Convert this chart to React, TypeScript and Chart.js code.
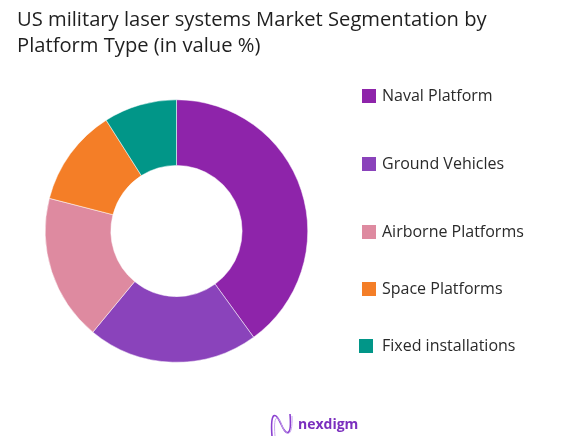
import React, { useEffect, useRef } from "react";
import { Chart, registerables } from "chart.js";

Chart.register(...registerables);

const titleLines = ["US military laser systems Market Segmentation by", "Platform Type (in value %)"];
const categories = ["Naval Platform", "Ground Vehicles", "Airborne Platforms", "Space Platforms", "Fixed installations"];
const values = [40, 21, 18, 12, 9];
const colors = ["#8E24AA", "#8A43BB", "#DE8AA0", "#F47E27", "#019688"];
const legendY = [96, 164, 232, 289, 346];
const legendX = [362, 362, 362, 362, 359];

const overlay = {
  id: "overlay",
  afterDraw(chart: any) {
    const ctx = chart.ctx as CanvasRenderingContext2D;
    ctx.save();
    // Title
    ctx.fillStyle = "#1f1f1f";
    ctx.textBaseline = "alphabetic";
    ctx.textAlign = "left";
    let size = 20;
    ctx.font = `${size}px "Open Sans"`;
    const w = ctx.measureText(titleLines[0]).width;
    size = size * 470 / w;
    ctx.font = `${size}px "Open Sans"`;
    ctx.fillText(titleLines[0], 17, 26);
    ctx.fillText(titleLines[1], 17, 52);
    // Legend
    ctx.font = `16px "Open Sans"`;
    ctx.textBaseline = "middle";
    categories.forEach((c, i) => {
      ctx.fillStyle = colors[i];
      ctx.fillRect(legendX[i], legendY[i] - 7, 14, 14);
      ctx.fillStyle = "#2a2a2a";
      ctx.fillText(c, 382, legendY[i]);
    });
    // Logo
    ctx.strokeStyle = "#8A3FD0";
    ctx.lineWidth = 1.6;
    ctx.beginPath();
    ctx.moveTo(272, 436);
    ctx.bezierCurveTo(270, 410, 276, 412, 281, 424);
    ctx.bezierCurveTo(286, 436, 292, 438, 290, 414);
    ctx.stroke();
    ctx.strokeStyle = "#C9A6EE";
    ctx.lineWidth = 1;
    ctx.beginPath();
    ctx.moveTo(275, 436);
    ctx.bezierCurveTo(273, 414, 278, 414, 282, 426);
    ctx.bezierCurveTo(287, 438, 293, 436, 292, 416);
    ctx.stroke();
    ctx.fillStyle = "#7B2FBE";
    ctx.font = `bold 14px "Open Sans"`;
    ctx.fillText("nexdigm", 298, 425);
    ctx.restore();
  },
};

export default function App() {
  const ref = useRef<HTMLCanvasElement>(null);
  useEffect(() => {
    const chart = new Chart(ref.current!, {
      type: "doughnut",
      data: {
        labels: categories,
        datasets: [
          {
            data: values,
            backgroundColor: colors,
            borderColor: "#ffffff",
            borderWidth: 0.5,
          },
        ],
      },
      options: {
        responsive: false,
        animation: false,
        cutout: "50%",
        layout: { padding: { left: 45, right: 267, top: 99.5, bottom: 81.5 } },
        plugins: { legend: { display: false }, tooltip: { enabled: false }, title: { display: false } },
      },
      plugins: [overlay],
    });
    return () => chart.destroy();
  }, []);
  return (
    <div style={{ position: "absolute", left: 0, top: 0, width: 575, height: 444, background: "#fff" }}>
      <canvas ref={ref} width={575} height={444} style={{ display: "block" }} />
    </div>
  );
}
